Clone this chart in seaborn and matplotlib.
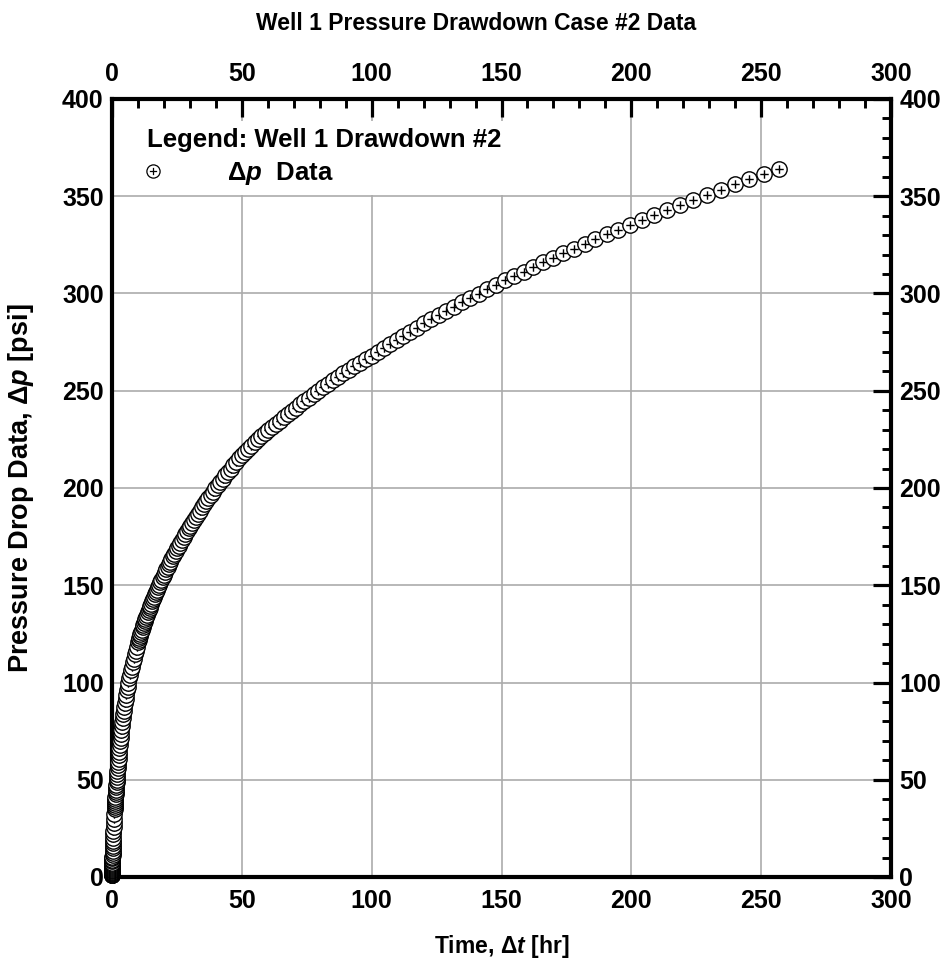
import matplotlib
matplotlib.use("Agg")
import matplotlib.pyplot as plt
from matplotlib.path import Path
from matplotlib.lines import Line2D
from matplotlib.ticker import MultipleLocator
import seaborn as sns
import pandas as pd

# ---- Well 1, drawdown case #2: elapsed time [hr] and pressure drop [psi] ----
t_sub1 = [0.0100, 0.0112, 0.0126, 0.0141, 0.0158, 0.0178, 0.0200, 0.0224, 0.0251, 0.0282,
          0.0316, 0.0355, 0.0398, 0.0447, 0.0501, 0.0562, 0.0631, 0.0708, 0.0794, 0.0891,
          0.100, 0.112, 0.126, 0.141, 0.158, 0.178, 0.200, 0.224, 0.251, 0.282,
          0.316, 0.355, 0.398, 0.447, 0.501, 0.562, 0.631, 0.708, 0.794, 0.891]
dp_sub1 = [0.85, 0.94, 1.05, 1.18, 1.31, 1.47, 1.64, 1.83, 2.04, 2.27,
           2.54, 2.80, 3.08, 3.40, 3.75, 4.14, 4.56, 5.03, 5.55, 6.12,
           6.75, 7.35, 8.02, 8.74, 9.53, 10.4, 11.3, 12.4, 13.5, 14.7,
           16.0, 17.3, 18.7, 20.2, 21.9, 23.7, 25.6, 27.7, 29.9, 32.4]

t_1_10 = [1.000, 1.047, 1.096, 1.148, 1.202, 1.259, 1.318, 1.380, 1.445, 1.514,
          1.585, 1.660, 1.738, 1.820, 1.905, 1.995, 2.089, 2.188, 2.291, 2.399,
          2.512, 2.630, 2.754, 2.884, 3.020, 3.162, 3.311, 3.467, 3.631, 3.802,
          3.981, 4.169, 4.365, 4.571, 4.786, 5.012, 5.248, 5.495, 5.754, 6.026,
          6.310, 6.607, 6.918, 7.244, 7.586, 7.943, 8.318, 8.710, 9.120, 9.550]
dp_1_10 = [35.0, 36.0, 37.0, 38.0, 39.1, 40.2, 41.3, 42.5, 43.7, 44.9,
           46.1, 47.4, 48.8, 50.1, 51.5, 53.0, 54.5, 56.0, 57.6, 59.2,
           60.8, 62.5, 64.3, 66.1, 67.9, 69.8, 71.7, 73.6, 75.6, 77.5,
           79.5, 81.6, 83.6, 85.6, 87.6, 89.6, 91.7, 93.8, 95.9, 97.9,
           100.0, 102.1, 104.1, 106.2, 108.2, 110.3, 112.3, 114.4, 116.4, 118.5]

t_10_100 = [10.00, 10.23, 10.47, 10.72, 10.96, 11.22, 11.48, 11.75, 12.02, 12.30,
            12.59, 12.88, 13.18, 13.49, 13.80, 14.13, 14.45, 14.79, 15.14, 15.49,
            15.85, 16.22, 16.60, 16.98, 17.38, 17.78, 18.20, 18.62, 19.05, 19.50,
            19.95, 20.42, 20.89, 21.38, 21.88, 22.39, 22.91, 23.44, 23.99, 24.55,
            25.12, 25.70, 26.30, 26.92, 27.54, 28.18, 28.84, 29.51, 30.20, 30.90,
            31.62, 32.36, 33.11, 33.88, 34.67, 35.48, 36.31, 37.15, 38.02, 38.90,
            39.81, 40.74, 41.69, 42.66, 43.65, 44.67, 45.71, 46.77, 47.86, 48.98,
            50.12, 51.29, 52.48, 53.70, 54.95, 56.23, 57.54, 58.88, 60.26, 61.66,
            63.10, 64.57, 66.07, 67.61, 69.18, 70.79, 72.44, 74.13, 75.86, 77.62,
            79.43, 81.28, 83.18, 85.11, 87.10, 89.13, 91.20, 93.33, 95.50, 97.72]
dp_10_100 = [121.0, 122.0, 123.0, 124.1, 125.1, 126.1, 127.2, 128.3, 129.4, 130.4,
             131.5, 132.6, 133.7, 134.9, 136.0, 137.1, 138.3, 139.4, 140.6, 141.8,
             143.0, 144.2, 145.4, 146.6, 147.8, 149.1, 150.3, 151.6, 152.9, 154.1,
             155.4, 156.8, 158.1, 159.4, 160.8, 162.1, 163.5, 164.8, 166.2, 167.6,
             169.0, 170.4, 171.9, 173.3, 174.8, 176.2, 177.7, 179.2, 180.7, 182.2,
             183.7, 185.3, 186.8, 188.4, 190.0, 191.6, 193.2, 194.8, 196.4, 198.1,
             199.8, 201.4, 203.1, 204.8, 206.6, 208.3, 210.0, 211.8, 213.6, 215.4,
             217.2, 218.7, 220.3, 221.8, 223.4, 225.0, 226.6, 228.2, 229.8, 231.4,
             233.0, 234.7, 236.3, 238.0, 239.7, 241.3, 243.0, 244.8, 246.5, 248.2,
             249.9, 251.7, 253.5, 255.3, 257.0, 258.9, 260.7, 262.5, 264.4, 266.2]

t_100_up = [100.0, 102.3, 104.7, 107.2, 109.6, 112.2, 114.8, 117.5, 120.2, 123.0,
            125.9, 128.8, 131.8, 134.9, 138.0, 141.3, 144.5, 147.9, 151.4, 154.9,
            158.5, 162.2, 166.0, 169.8, 173.8, 177.8, 182.0, 186.2, 190.5, 195.0,
            199.5, 204.2, 208.9, 213.8, 218.8, 223.9, 229.1, 234.4, 239.9, 245.5,
            251.2, 257.0]
dp_100_up = [268.1, 270.1, 272.1, 274.2, 276.2, 278.3, 280.4, 282.5, 284.6, 286.7,
             288.9, 291.1, 293.2, 295.4, 297.7, 299.9, 302.1, 304.4, 306.7, 309.0,
             311.3, 313.6, 316.0, 318.3, 320.7, 323.1, 325.6, 328.0, 330.5, 332.9,
             335.4, 337.9, 340.5, 343.0, 345.6, 348.2, 350.8, 353.4, 356.1, 358.8,
             361.4, 364.1]

x_ticks = [0, 50, 100, 150, 200, 250, 300]
y_ticks = [0, 50, 100, 150, 200, 250, 300, 350, 400]

title_text = "Well 1 Pressure Drawdown Case #2 Data"
legend_title = "Legend: Well 1 Drawdown #2"
legend_label = r"$\mathit{Δp}$  Data"
x_label = r"Time, $\mathit{Δt}$ [hr]"
y_label = r"Pressure Drop Data, $\mathit{Δp}$ [psi]"

df = pd.DataFrame({
    "time": t_sub1 + t_1_10 + t_10_100 + t_100_up,
    "dp": dp_sub1 + dp_1_10 + dp_10_100 + dp_100_up,
})

# ---- style ----
sns.set_theme(style="white")
plt.rcParams.update({
    "font.family": ["Liberation Sans", "DejaVu Sans"],
    "font.weight": "bold",
    "mathtext.fontset": "custom",
    "mathtext.it": "Liberation Sans:bold:italic",
    "mathtext.rm": "Liberation Sans:bold",
    "mathtext.bf": "Liberation Sans:bold",
    "axes.edgecolor": "black",
    "axes.linewidth": 3.0,
    "text.color": "black",
    "axes.labelcolor": "black",
    "xtick.color": "black",
    "ytick.color": "black",
})

# open circle with a cross inside
circ = Path.unit_circle()
arm = 0.55
marker_path = Path(
    list(circ.vertices) + [(-arm, 0), (arm, 0), (0, -arm), (0, arm)],
    list(circ.codes) + [Path.MOVETO, Path.LINETO, Path.MOVETO, Path.LINETO],
)

fig = plt.figure(figsize=(9.52, 9.66), dpi=100)
ax = fig.add_axes([112 / 952, 1 - 877 / 966, 779 / 952, 778 / 966])

sns.scatterplot(
    data=df, x="time", y="dp", ax=ax,
    marker=marker_path, s=122, color="white", edgecolor="black",
    linewidth=1.0, zorder=4, clip_on=False, legend=False,
)

ax.set_xlim(x_ticks[0], x_ticks[-1])
ax.set_ylim(y_ticks[0], y_ticks[-1])
ax.set_xticks(x_ticks)
ax.set_yticks(y_ticks)
ax.xaxis.set_minor_locator(MultipleLocator(10))
ax.yaxis.set_minor_locator(MultipleLocator(10))

ax.grid(True, which="major", color="#ababab", linewidth=1.2)
ax.set_axisbelow(True)

ax.tick_params(which="both", direction="in", top=True, right=True,
               labeltop=True, labelright=True, labelsize=18)
ax.tick_params(which="major", length=13, width=2.3)
ax.tick_params(which="minor", length=6.5, width=2.1)
ax.tick_params(axis="x", which="major", pad=9)
ax.tick_params(axis="y", which="major", pad=6)
for lab in ax.get_xticklabels() + ax.get_yticklabels():
    lab.set_fontweight("bold")

ax.set_xlabel(x_label, fontsize=16.5, fontweight="bold")
ax.set_ylabel(y_label, fontsize=19.5, fontweight="bold")
ax.xaxis.set_label_coords(0.5, -0.072)
ax.yaxis.set_label_coords(-0.098, 0.5)

fig.text(0.5, 1 - 23 / 966, title_text, ha="center", va="center",
         fontsize=16.5, fontweight="bold")

handle = Line2D([], [], linestyle="none", marker=marker_path, markersize=9.5,
                markerfacecolor="white", markeredgecolor="black",
                markeredgewidth=0.9)
leg = ax.legend(
    handles=[handle], labels=[legend_label], title=legend_title,
    loc="upper left", bbox_to_anchor=(0.035, 0.972), borderaxespad=0,
    frameon=True, fancybox=False, framealpha=1, facecolor="white",
    edgecolor="none", prop={"weight": "bold", "size": 18.5},
    title_fontproperties={"weight": "bold", "size": 18.5}, alignment="left",
    handlelength=0.5, handletextpad=2.6, borderpad=0.3, labelspacing=0.3,
)
leg.set_zorder(5)

fig.savefig("out.png", dpi=100)
